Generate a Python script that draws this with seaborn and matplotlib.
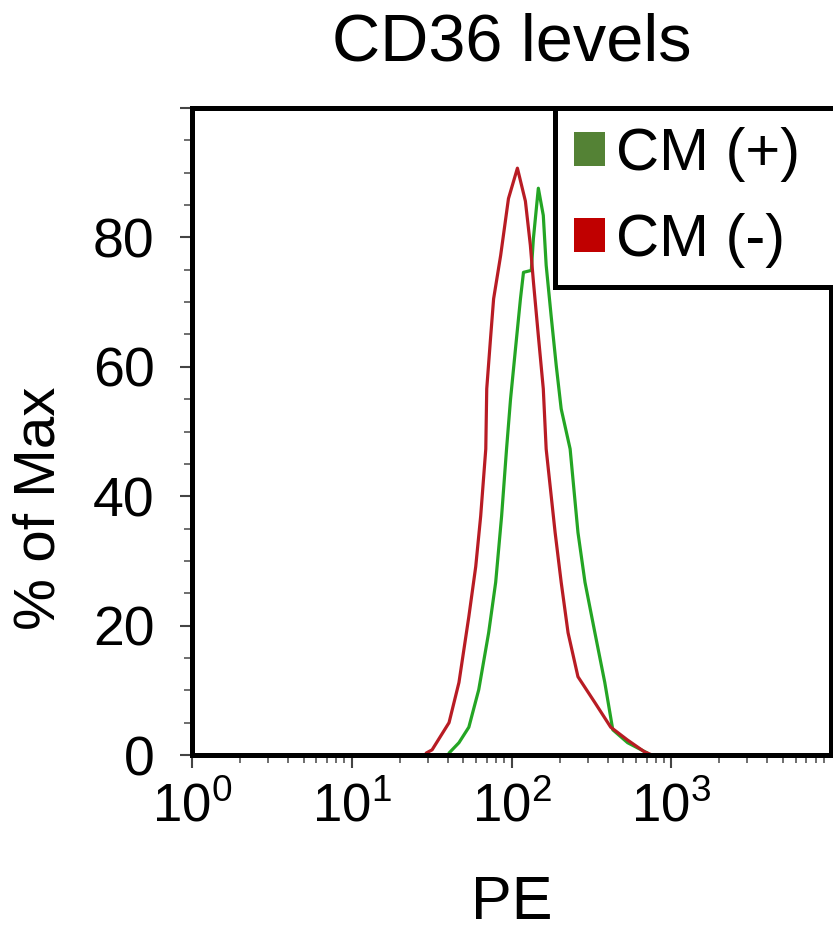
import numpy as np
import pandas as pd
import matplotlib
matplotlib.use("Agg")
import matplotlib.pyplot as plt
import seaborn as sns
from matplotlib.patches import Patch
from matplotlib.ticker import FixedLocator, MultipleLocator, LogLocator, NullFormatter

# ---- data ----
red_log = [1.466, 1.503, 1.609, 1.671, 1.733, 1.776, 1.807, 1.839, 1.845, 1.870, 1.888, 1.932,
           1.981, 2.037, 2.087, 2.118, 2.137, 2.168, 2.199, 2.217, 2.273, 2.311, 2.354, 2.416,
           2.522, 2.621, 2.727, 2.832, 2.880]
red_val = [0.3, 0.8, 5.0, 11.2, 21.4, 29.1, 36.9, 47.3, 56.6, 64.8, 70.5, 77.2,
           86.0, 90.7, 85.6, 78.8, 73.2, 64.8, 56.6, 47.3, 34.4, 26.7, 18.9, 12.1,
           8.1, 4.3, 2.3, 0.5, 0.0]
green_log = [1.609, 1.671, 1.733, 1.795, 1.857, 1.901, 1.938, 1.969, 1.994, 2.025, 2.056, 2.075,
             2.124, 2.137, 2.168, 2.199, 2.217, 2.248, 2.280, 2.311, 2.367, 2.416, 2.460, 2.522,
             2.584, 2.634, 2.727, 2.851]
green_val = [0.3, 1.9, 4.3, 10.1, 18.9, 26.7, 36.9, 47.3, 55.0, 62.8, 70.5, 74.6,
             74.9, 79.8, 87.6, 83.4, 75.7, 67.9, 60.2, 53.5, 47.3, 34.4, 26.7, 18.9,
             11.2, 3.9, 1.9, 0.3]
series_names = ["CM (+)", "CM (-)"]
x_ticks = [1, 10, 100, 1000]
x_ticklabels = [r"$10^0$", r"$10^1$", r"$10^2$", r"$10^3$"]
y_ticks = [0, 20, 40, 60, 80, 100]
y_ticklabels = ["0", "20", "40", "60", "80", ""]
title = "CD36 levels"
xlabel = "PE"
ylabel = "% of Max"

line_colors = {"CM (+)": "#24a524", "CM (-)": "#b81c24"}
legend_colors = {"CM (+)": "#548235", "CM (-)": "#c00000"}

df = pd.concat([
    pd.DataFrame({"PE": np.power(10.0, green_log), "pct": green_val, "group": "CM (+)"}),
    pd.DataFrame({"PE": np.power(10.0, red_log), "pct": red_val, "group": "CM (-)"}),
], ignore_index=True)

sns.set_theme(style="white")
plt.rcParams["font.family"] = ["Liberation Sans", "DejaVu Sans"]
plt.rcParams["mathtext.fontset"] = "custom"
plt.rcParams["mathtext.rm"] = "Liberation Sans"
plt.rcParams["mathtext.it"] = "Liberation Sans:italic"
plt.rcParams["mathtext.bf"] = "Liberation Sans:bold"
plt.rcParams["text.color"] = "black"
plt.rcParams["axes.labelcolor"] = "black"

fig = plt.figure(figsize=(8.33, 9.31), dpi=100)
ax = fig.add_axes([192/833, (931-755)/931, (831-192)/833, (755-108)/931])

sns.lineplot(data=df, x="PE", y="pct", hue="group", palette=line_colors,
             sort=False, estimator=None, linewidth=2.3, ax=ax, legend=False)

ax.set_xscale("log")
ax.set_xlim(1, 1e4)
ax.set_ylim(0, 100)

ax.set_xticks(x_ticks)
ax.set_xticklabels(x_ticklabels)
ax.xaxis.set_minor_locator(LogLocator(base=10, subs=np.arange(2, 10), numticks=20))
ax.xaxis.set_minor_formatter(NullFormatter())

ax.yaxis.set_major_locator(FixedLocator(y_ticks))
ax.set_yticklabels(y_ticklabels)
ax.yaxis.set_minor_locator(MultipleLocator(5))

for s in ax.spines.values():
    s.set_color("black")
    s.set_linewidth(3.6)
    s.set_visible(True)

ax.tick_params(axis="both", which="major", direction="out", length=9, width=1.5,
               color="#444444", labelcolor="black",
               bottom=True, left=True, top=False, right=False)
ax.tick_params(axis="x", which="major", labelsize=38, pad=11)
ax.tick_params(axis="y", which="major", labelsize=40, pad=18)
ax.tick_params(axis="both", which="minor", direction="out", length=5.5, width=1.2,
               color="#555555", bottom=True, left=True, top=False, right=False)

ax.set_title(title, fontsize=48, pad=34, color="black")
ax.set_xlabel(xlabel, fontsize=44, labelpad=30)
ax.set_ylabel(ylabel, fontsize=42)
ax.yaxis.set_label_coords((66 - 192) / 639, (755 - 508) / 647)

handles = [Patch(facecolor=legend_colors[n], edgecolor="none", label=n) for n in series_names]
leg = fig.legend(handles=handles, loc="upper left",
                 bbox_to_anchor=(555/833, 1 - 280/931, 300/833, 172/931),
                 mode="expand", fontsize=43, frameon=True, fancybox=False,
                 handlelength=0.52, handleheight=0.52,
                 handletextpad=0.18, borderpad=0.32, labelspacing=0.52, borderaxespad=0)
for t in leg.get_texts():
    t.set_color("black")
leg.get_frame().set_edgecolor("black")
leg.get_frame().set_linewidth(3.6)
leg.get_frame().set_facecolor("white")
leg.get_frame().set_alpha(1)

fig.savefig("out.png", dpi=100)
